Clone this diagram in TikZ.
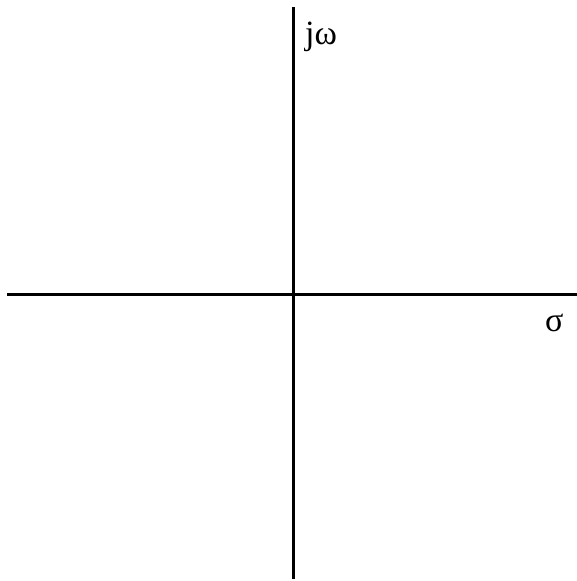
\documentclass[tikz,border=0pt]{standalone}
\usepackage{fontspec}
\setmainfont{Liberation Serif}
\usetikzlibrary{positioning}

\begin{document}
\begin{tikzpicture}[x=1pt, y=1pt, axis/.style={line width=3pt}, axislabel/.style={inner sep=0pt, font=\fontsize{34}{38}\selectfont}]
\useasboundingbox (0,0) rectangle (577,581);
\coordinate (yb) at (293,2);
\coordinate (yt) at (293,574);
\coordinate (xl) at (7,286);
\coordinate (xr) at (577,286);
\draw [axis] (yb) -- (yt);
\draw [axis] (xl) -- (xr);
\node (jw) [axislabel, anchor=base west] at (305,536) {jω};
\node (sigma) [axislabel, anchor=base west] at (545,249) {σ};
\end{tikzpicture}
\end{document}
